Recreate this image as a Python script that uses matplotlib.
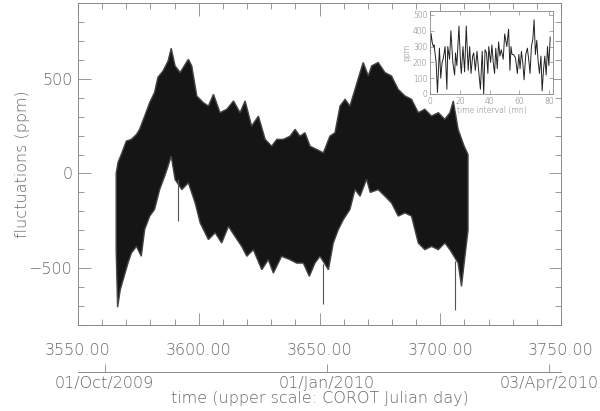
import matplotlib
matplotlib.use("Agg")
import matplotlib.pyplot as plt
import numpy as np

# ---- main light curve envelope ----
up_x = [3565.8, 3566.6, 3567.9, 3570.0, 3572.1, 3574.2, 3575.5, 3577.6, 3579.7, 3581.7,
        3583.1, 3585.2, 3587.3, 3588.6, 3590.2, 3592.3, 3595.7, 3597.1, 3599.2, 3601.9,
        3604.0, 3606.1, 3608.8, 3611.6, 3614.4, 3617.1, 3619.2, 3621.9, 3624.7, 3627.5,
        3630.2, 3632.3, 3635.0, 3637.8, 3639.9, 3641.9, 3644.0, 3646.1, 3648.8, 3651.6,
        3654.3, 3656.4, 3658.5, 3660.6, 3662.6, 3664.7, 3666.8, 3668.1, 3670.2, 3671.6,
        3674.3, 3677.1, 3679.8, 3682.6, 3685.4, 3688.1, 3690.9, 3693.6, 3696.4, 3699.2,
        3701.9, 3704.0, 3705.4, 3707.4, 3709.9, 3711.5]
up_y = [0, 60, 100, 171, 180, 206, 233, 303, 375, 428,
        508, 541, 594, 661, 568, 533, 603, 568, 409, 374,
        356, 418, 321, 339, 383, 321, 383, 250, 303, 180,
        144, 180, 180, 197, 233, 197, 215, 144, 127, 109,
        197, 215, 356, 392, 356, 444, 533, 586, 515, 568,
        586, 533, 515, 444, 409, 392, 321, 339, 303, 321,
        286, 321, 383, 233, 144, 100]

lo_x = [3565.8, 3566.4, 3567.5, 3568.7, 3570.7, 3572.1, 3574.2, 3576.2, 3577.6, 3579.7,
        3581.7, 3583.8, 3585.9, 3587.3, 3588.6, 3590.2, 3593.0, 3595.7, 3598.5, 3600.6,
        3604.0, 3606.8, 3609.5, 3612.3, 3615.0, 3617.8, 3619.9, 3622.6, 3626.1, 3628.8,
        3630.9, 3634.3, 3637.8, 3640.5, 3643.3, 3645.8, 3648.1, 3650.2, 3653.7, 3655.7,
        3657.8, 3659.9, 3662.6, 3664.7, 3666.8, 3669.5, 3671.0, 3674.3, 3677.1, 3679.8,
        3682.6, 3685.4, 3688.1, 3690.9, 3693.6, 3696.4, 3699.2, 3701.9, 3704.0, 3707.4,
        3708.8, 3709.9, 3711.5]
lo_y = [-400, -706, -614, -561, -473, -420, -385, -437, -296, -225,
        -190, -85, -14, 39, 92, -32, -85, -49, -155, -261,
        -349, -313, -367, -279, -332, -385, -437, -402, -508, -455,
        -526, -437, -455, -473, -473, -543, -473, -437, -508, -367,
        -296, -243, -190, -85, -120, -30, -100, -85, -120, -155,
        -225, -208, -225, -367, -402, -385, -402, -367, -402, -473,
        -596, -473, -300]

spike_x = [3591.6, 3651.6, 3706.1]
spike_top = [-30, -480, -460]
spike_y = [-250, -690, -720]

# ---- inset: short time series (ppm vs minutes) ----
ins_t = [0.0, 0.7, 1.6, 2.3, 2.7, 4.1, 5.0, 6.3, 7.2, 8.1, 9.0, 10.1, 11.3, 11.9, 13.1,
         14.0, 15.3, 16.5, 17.1, 18.0, 19.4, 20.6, 21.0, 22.1, 23.2, 24.3, 25.6, 26.6, 27.5,
         28.6, 29.3, 30.4, 31.5, 32.7, 33.8, 35.0, 36.0, 36.9, 37.9, 38.8, 39.4, 40.6, 41.5,
         42.4, 43.3, 44.1, 45.1, 46.0, 46.9, 47.8, 49.1, 50.1, 51.5, 52.7, 53.6, 54.3, 55.0,
         55.9, 57.3, 58.6, 59.6, 60.4, 61.3, 62.2, 63.1, 64.2, 65.3, 66.4, 67.1, 68.0, 69.0,
         69.8, 70.7, 71.6, 72.5, 73.4, 74.4, 75.2, 76.1, 77.0, 77.9, 78.8, 79.7, 80.6]
ins_v = [255, 383, 319, 300, 310, 200, 10, 290, 100, 200, 230, 300, 30, 300, 220,
         400, 200, 120, 260, 180, 430, 170, 130, 300, 140, 430, 150, 300, 130,
         240, 260, 150, 270, 140, 30, 270, 0, 280, 260, 130, 300, 200, 310,
         200, 130, 290, 160, 330, 240, 280, 220, 380, 300, 410, 150, 300, 250,
         250, 230, 130, 250, 160, 270, 200, 90, 250, 290, 200, 130, 300, 350,
         470, 250, 340, 210, 130, 240, 20, 150, 240, 120, 300, 180, 360]

xticks = [3550, 3600, 3650, 3700, 3750]
yticks = [-500, 0, 500]
date_pos = [3561, 3653, 3745]
date_lbl = ["01/Oct/2009", "01/Jan/2010", "03/Apr/2010"]

TXT = "#6a6a6a"
AX = "#888888"
plt.rcParams["font.family"] = ["DejaVu Sans"]
plt.rcParams["font.weight"] = 200
plt.rcParams["axes.labelweight"] = 200
FS = 11.5

fig = plt.figure(figsize=(6.0, 4.11), dpi=100)
ax = fig.add_axes([0.13, 0.2092, 0.805, 0.7835])

poly_x = np.concatenate([up_x, lo_x[::-1]])
poly_y = np.concatenate([up_y, lo_y[::-1]])
ax.fill(poly_x, poly_y, color="#151515", lw=1.0, ec="#444444")
ax.vlines(spike_x, spike_top, spike_y, color="#555555", lw=0.8)

ax.set_xlim(3550, 3750)
ax.set_ylim(-800, 900)
ax.set_xticks(xticks)
ax.set_xticklabels([f"{v:.2f}" for v in xticks])
ax.set_yticks(yticks)
ax.set_xticks(np.arange(3550, 3751, 10), minor=True)
ax.set_yticks(np.arange(-800, 901, 100), minor=True)
ax.tick_params(which="both", direction="in", top=True, right=True, colors=AX,
               labelcolor=TXT, labelsize=FS, width=0.6)
ax.tick_params(which="major", length=9)
ax.tick_params(which="minor", length=4.5)
ax.tick_params(axis="x", pad=13)
ax.tick_params(axis="y", pad=4)
for s in ax.spines.values():
    s.set_color(AX)
    s.set_linewidth(0.7)
ax.set_ylabel("fluctuations (ppm)", color=TXT, fontsize=FS)
ax.yaxis.set_label_coords(-0.1, 0.5)

# lower date scale
ax2 = fig.add_axes([0.13, 0.0949, 0.805, 0.05])
ax2.set_xlim(3550, 3750)
ax2.set_ylim(0, 1)
ax2.patch.set_alpha(0)
for k in ["top", "left", "right"]:
    ax2.spines[k].set_visible(False)
ax2.spines["bottom"].set_color(AX)
ax2.spines["bottom"].set_linewidth(0.7)
ax2.set_yticks([])
ax2.set_xticks(date_pos)
ax2.set_xticklabels(date_lbl)
ax2.tick_params(axis="x", direction="in", length=6, colors=AX, labelcolor=TXT,
                labelsize=FS, pad=3, width=0.6)
ax2.set_xlabel("time (upper scale: COROT Julian day)", color=TXT, fontsize=FS, labelpad=0)

# inset
axi = fig.add_axes([0.7167, 0.7713, 0.205, 0.2019])
axi.plot(ins_t, ins_v, color="#222222", lw=0.7)
axi.set_xlim(0, 82.5)
axi.set_ylim(0, 525)
axi.set_xticks([0, 20, 40, 60, 80])
axi.set_yticks([0, 100, 200, 300, 400, 500])
axi.tick_params(direction="in", top=True, right=True, length=3, colors=AX,
                labelcolor=TXT, labelsize=5.5, pad=2, width=0.5)
for s in axi.spines.values():
    s.set_color(AX)
    s.set_linewidth(0.6)
axi.set_xlabel("time interval (mn)", color=TXT, fontsize=5.5, labelpad=0)
axi.set_ylabel("ppm", color=TXT, fontsize=5.5, labelpad=1)

fig.savefig("out.png", dpi=100)
